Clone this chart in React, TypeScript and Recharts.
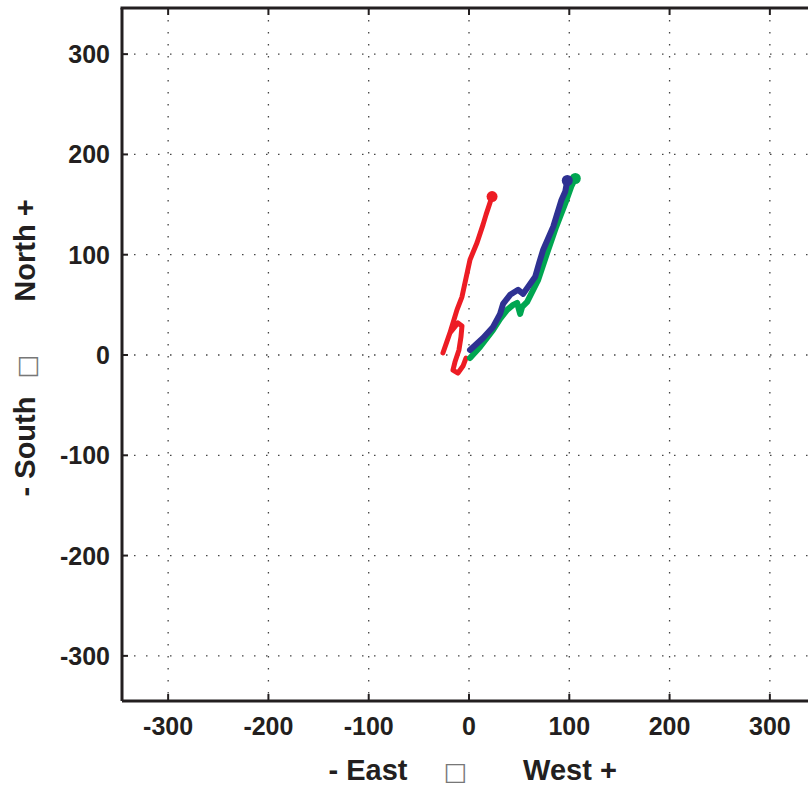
import React from 'react';
import { LineChart, Line, XAxis, YAxis, CartesianGrid } from 'recharts';

const xTicks = [-300, -200, -100, 0, 100, 200, 300];
const yTicks = [-300, -200, -100, 0, 100, 200, 300];
const xDomain = [-346, 346];
const yDomain = [-345, 346];

const xLabelParts = ['- East', '\u25A1', 'West +'];
const yLabelParts = ['- South', '\u25A1', 'North +'];

const redPath = [
  { x: -3, y: -3 }, { x: -6, y: -11 }, { x: -11, y: -18 }, { x: -16, y: -15 },
  { x: -14, y: -7 }, { x: -10, y: 5 }, { x: -8, y: 18 }, { x: -7, y: 29 },
  { x: -11, y: 32 }, { x: -19, y: 22 }, { x: -26, y: 2 }, { x: -19, y: 22 },
  { x: -12, y: 45 }, { x: -7, y: 58 }, { x: 1, y: 95 }, { x: 8, y: 112 },
  { x: 14, y: 130 }, { x: 17, y: 140 }, { x: 23, y: 158 },
];

const bluePath = [
  { x: 1, y: 5 }, { x: 14, y: 17 }, { x: 24, y: 28 }, { x: 31, y: 41 },
  { x: 34, y: 51 }, { x: 41, y: 60 }, { x: 49, y: 65 }, { x: 54, y: 61 },
  { x: 59, y: 68 }, { x: 66, y: 78 }, { x: 70, y: 92 }, { x: 74, y: 105 },
  { x: 84, y: 128 }, { x: 92, y: 154 }, { x: 96, y: 163 }, { x: 98, y: 174 },
];

const greenPath = [
  { x: 1, y: -3 }, { x: 11, y: 8 }, { x: 24, y: 25 }, { x: 31, y: 36 },
  { x: 38, y: 45 }, { x: 44, y: 50 }, { x: 48, y: 52 }, { x: 51, y: 41 },
  { x: 53, y: 48 }, { x: 58, y: 53 }, { x: 62, y: 61 }, { x: 69, y: 75 },
  { x: 79, y: 105 }, { x: 87, y: 128 }, { x: 97, y: 154 }, { x: 102, y: 168 },
  { x: 106, y: 176 },
];

const CHART_W = 840;
const CHART_H = 787;
const MARGIN = { top: 8, right: 24, bottom: 0, left: 0 };
const AXIS = '#231f20';
const GRID = '#444';
const FONT = '"Liberation Sans", Arial, Helvetica, sans-serif';

const BottomTick = (props: any) => {
  const { x, y, payload } = props;
  const axisY = y - 8;
  return (
    <g>
      <line x1={x} y1={axisY} x2={x} y2={axisY - 7} stroke={AXIS} strokeWidth={2} />
      <text x={x} y={axisY + 25} textAnchor="middle" dominantBaseline="central"
        fontFamily={FONT} fontWeight="bold" fontSize={25} fill={AXIS}>{payload.value}</text>
    </g>
  );
};

const LeftTick = (props: any) => {
  const { x, y, payload } = props;
  const axisX = x + 8;
  return (
    <g>
      <line x1={axisX} y1={y} x2={axisX + 6} y2={y} stroke={AXIS} strokeWidth={2} />
      <text x={axisX - 12} y={y} textAnchor="end" dominantBaseline="central"
        fontFamily={FONT} fontWeight="bold" fontSize={25} fill={AXIS}>{payload.value}</text>
    </g>
  );
};

// X axis title, plus the top frame of the plot box (as a thin filled bar).
const XLabel = (props: any) => {
  const vb = props.viewBox;
  const cx = vb.x + vb.width / 2;
  const by = vb.y + 79;
  const top = MARGIN.top;
  return (
    <g>
      <rect x={vb.x - 1.5} y={top - 1.5} width={vb.width + 1.5} height={3} fill={AXIS} />
      <g fontFamily={FONT} fontWeight="bold" fontSize={29} fill={AXIS}>
        <text x={cx - 101} y={by} textAnchor="middle">{xLabelParts[0]}</text>
        <text x={cx - 13.5} y={by} textAnchor="middle" fontWeight="normal" fill="#777" fontFamily="DejaVu Sans" fontSize={25}>{xLabelParts[1]}</text>
        <text x={cx + 101} y={by} textAnchor="middle">{xLabelParts[2]}</text>
      </g>
    </g>
  );
};

const YLabel = (props: any) => {
  const vb = props.viewBox;
  const cy = vb.y + vb.height / 2;
  const bx = vb.x + 35;
  const part = (txt: string, off: number, extra: any = {}) => (
    <text x={bx} y={cy + off} transform={`rotate(-90, ${bx}, ${cy + off})`} textAnchor="middle" {...extra}>{txt}</text>
  );
  return (
    <g fontFamily={FONT} fontWeight="bold" fontSize={29} fill={AXIS}>
      {part(yLabelParts[0], 92)}
      {part(yLabelParts[1], 12, { fontWeight: 'normal', fill: '#777', fontFamily: 'DejaVu Sans', fontSize: 25 })}
      {part(yLabelParts[2], -104)}
    </g>
  );
};

// Dotted vertical grid line plus the inward tick mark on the top frame.
const VGrid = (p: any) => {
  const top = Math.min(p.y1, p.y2);
  return (
    <g key={`v-${p.index}-${p.x1}`}>
      <line x1={p.x1} y1={p.y1} x2={p.x2} y2={p.y2} stroke={GRID} strokeWidth={1.3} strokeDasharray="1.5 10.5" />
      <rect x={p.x1 - 1} y={top} width={2} height={7} fill={AXIS} />
    </g>
  );
};

const HGrid = (p: any) => (
  <line key={`h-${p.index}-${p.y1}`} x1={p.x1} y1={p.y1} x2={p.x2} y2={p.y2} stroke={GRID} strokeWidth={1.3} strokeDasharray="1.5 10.5" />
);

const endDot = (color: string, len: number) => (p: any) => {
  if (p.index !== len - 1) return <g key={p.index} />;
  return <circle key={p.index} cx={p.cx} cy={p.cy} r={5.5} fill={color} stroke="none" />;
};

export default function App() {
  return (
    <div style={{ position: 'absolute', left: 0, top: 0, width: 808, height: 787, overflow: 'hidden', background: '#fff' }}>
      <LineChart width={CHART_W} height={CHART_H} margin={MARGIN}>
        <CartesianGrid vertical={VGrid} horizontal={HGrid} />
        <XAxis type="number" dataKey="x" domain={xDomain} ticks={xTicks} allowDataOverflow
          height={86} axisLine={{ stroke: AXIS, strokeWidth: 3 }} tickLine={false}
          tick={<BottomTick />} interval={0} label={<XLabel />} />
        <YAxis type="number" dataKey="y" domain={yDomain} ticks={yTicks} allowDataOverflow
          width={122} axisLine={{ stroke: AXIS, strokeWidth: 3 }} tickLine={false}
          tick={<LeftTick />} interval={0} label={<YLabel />} />
        <Line data={redPath} dataKey="y" stroke="#ED1C24" strokeWidth={5} strokeLinejoin="round" strokeLinecap="round"
          dot={endDot('#ED1C24', redPath.length)} activeDot={false} isAnimationActive={false} />
        <Line data={greenPath} dataKey="y" stroke="#00A651" strokeWidth={6} strokeLinejoin="round" strokeLinecap="round"
          dot={endDot('#00A651', greenPath.length)} activeDot={false} isAnimationActive={false} />
        <Line data={bluePath} dataKey="y" stroke="#2E3192" strokeWidth={6} strokeLinejoin="round" strokeLinecap="round"
          dot={endDot('#2E3192', bluePath.length)} activeDot={false} isAnimationActive={false} />
      </LineChart>
    </div>
  );
}
